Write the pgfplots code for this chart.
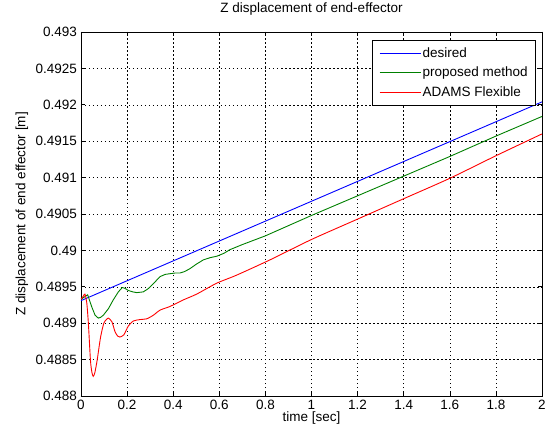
\documentclass[border=0pt]{standalone}
\usepackage{fontspec}
\setmainfont{Liberation Sans}
\usepackage{pgfplots}
\pgfplotsset{compat=1.18}
\definecolor{mblue}{rgb}{0,0,1}
\definecolor{mgreen}{rgb}{0,0.5,0}
\definecolor{mred}{rgb}{1,0,0}
\begin{document}
\begin{tikzpicture}[font=\fontsize{13.5bp}{16bp}\selectfont]
\path[use as bounding box] (-81bp,-39bp) rectangle (469bp,396bp);
\begin{axis}[
  at={(0,0)}, anchor=south west,
  scale only axis, width=461bp, height=364bp,
  xmin=0, xmax=2, ymin=0.488, ymax=0.493,
  xtick={0,0.2,...,2.01},
  ytick={0.488,0.4885,0.489,0.4895,0.49,0.4905,0.491,0.4915,0.492,0.4925,0.493},
  yticklabels={0.488,0.4885,0.489,0.4895,0.49,0.4905,0.491,0.4915,0.492,0.4925,0.493},
  scaled y ticks=false, scaled x ticks=false,
  /pgf/number format/assume math mode=true,
  tick label style={font=\fontsize{13.5bp}{16bp}\selectfont},
  label style={font=\fontsize{13.5bp}{16bp}\selectfont},
  title style={font=\fontsize{13.5bp}{16bp}\selectfont, at={(axis description cs:0.5,1)}, anchor=center, yshift=17bp},
  xlabel style={at={(axis description cs:0.5,0)}, anchor=center, yshift=-22bp},
  ylabel style={at={([xshift=-59bp]axis description cs:0,0.5)}, anchor=center},
  yticklabel style={inner sep=0pt, xshift=-4bp},
  xticklabel style={inner sep=0pt, yshift=-4bp},
  title={Z displacement of end-effector},
  xlabel={time [sec]},
  ylabel={Z displacement of end effector [m]},
  tick align=inside, major tick length=4bp,
  xtick pos=both, ytick pos=both,
  axis line style={black, line width=0.8bp},
  tick style={black, line width=0.6bp},
  grid=major,
  major grid style={black, line width=0.5bp, dash pattern=on 1.5bp off 2.5bp},
  legend style={at={(1,1)}, anchor=north east, xshift=-6bp, yshift=-8bp,
    line width=0.8bp, inner xsep=6.5bp, inner ysep=5bp,
    font=\fontsize{13.5bp}{16bp}\selectfont, row sep=4.5bp,
    nodes={inner xsep=1.5bp, text=black}},
  legend cell align=left,
  legend image code/.code={\draw[line width=1bp, #1] (0bp,0bp) -- (41bp,0bp);},
]
\addplot[color=mblue, line width=0.9bp] coordinates {(0,0.48931) (2,0.49204)};
\addlegendentry{desired}
\addplot[color=mgreen, line width=0.9bp] coordinates {
(0,0.48933) (0.015,0.48936) (0.029,0.48939) (0.046,0.48923) (0.061,0.48911)
(0.075,0.48907) (0.085,0.48908) (0.097,0.48911) (0.119,0.48920) (0.14,0.48932)
(0.162,0.48943) (0.179,0.48949) (0.19,0.48948) (0.205,0.48945) (0.225,0.48943)
(0.242,0.48942) (0.27,0.48943) (0.29,0.48947) (0.307,0.48952) (0.325,0.48958)
(0.343,0.48964) (0.365,0.48967) (0.386,0.48968) (0.41,0.48969) (0.43,0.48969)
(0.45,0.48971) (0.473,0.48975) (0.5,0.48981) (0.531,0.48987) (0.56,0.48990)
(0.589,0.48992) (0.62,0.48996) (0.646,0.49001) (0.7,0.49008) (0.8,0.49020)
(0.9,0.49034) (1.0,0.49048) (1.2,0.49075) (1.4,0.49102) (1.6,0.49129)
(1.8,0.49157) (2.0,0.49184)};
\addlegendentry{proposed method}
\addplot[color=mred, line width=0.9bp, smooth, tension=0.4] coordinates {
(0,0.48933) (0.01,0.48937) (0.017,0.48940) (0.025,0.48928) (0.032,0.48900)
(0.041,0.48849) (0.047,0.48833) (0.053,0.48827) (0.06,0.48832) (0.070,0.48849)
(0.085,0.48881) (0.099,0.48900) (0.11,0.48905) (0.119,0.48907) (0.134,0.48902)
(0.148,0.48888) (0.16,0.48882) (0.169,0.48881) (0.186,0.48884) (0.205,0.48896)
(0.227,0.48903) (0.256,0.48905) (0.285,0.48906) (0.314,0.48911) (0.343,0.48918)
(0.386,0.48923) (0.444,0.48932) (0.502,0.48940) (0.589,0.48955) (0.675,0.48966)
(0.82,0.48987) (1.0,0.49015) (1.2,0.49043) (1.4,0.49071) (1.6,0.49099)
(1.8,0.49130) (2.0,0.49160)};
\addlegendentry{ADAMS Flexible}
\end{axis}
\end{tikzpicture}
\end{document}
